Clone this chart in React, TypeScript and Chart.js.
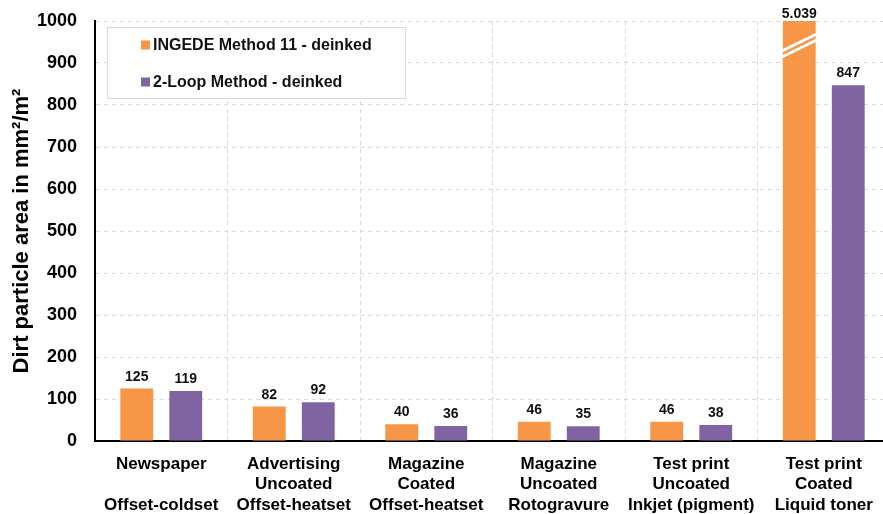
import React, { useEffect, useRef } from "react";
import { Chart, registerables } from "chart.js";

Chart.register(...registerables);

const categories: string[][] = [
  ["Newspaper", "", "Offset-coldset"],
  ["Advertising", "Uncoated", "Offset-heatset"],
  ["Magazine", "Coated", "Offset-heatset"],
  ["Magazine", "Uncoated", "Rotogravure"],
  ["Test print", "Uncoated", "Inkjet (pigment)"],
  ["Test print", "Coated", "Liquid toner"],
];
const seriesNames = ["INGEDE Method 11 - deinked", "2-Loop Method - deinked"];
const ingede = [125, 82, 40, 46, 46, 5039];
const twoLoop = [119, 92, 36, 35, 38, 847];
const yMin = 0;
const yMax = 1000;
const yStep = 100;

const colors = ["#F79646", "#8064A2"];
const FONT = '"Liberation Sans", Arial, sans-serif';

function fmt(v: number): string {
  const s = String(Math.round(v));
  return s.replace(/\B(?=(\d{3})+(?!\d))/g, ".");
}

const labelsPlugin = {
  id: "barLabels",
  afterDatasetsDraw(chart: any) {
    const ctx = chart.ctx;
    const area = chart.chartArea;
    const yScale = chart.scales.y;
    ctx.save();
    chart.data.datasets.forEach((ds: any, di: number) => {
      const meta = chart.getDatasetMeta(di);
      meta.data.forEach((bar: any, i: number) => {
        const v = ds.data[i] as number;
        const clipped = v > yScale.max;
        const left = bar.x - bar.width / 2;
        const right = bar.x + bar.width / 2;
        if (clipped) {
          ctx.strokeStyle = "#ffffff";
          ctx.lineWidth = 3;
          ctx.beginPath();
          ctx.moveTo(left - 1, area.top + 30);
          ctx.lineTo(right + 1, area.top + 13);
          ctx.moveTo(left - 1, area.top + 36);
          ctx.lineTo(right + 1, area.top + 19);
          ctx.stroke();
        }
        ctx.fillStyle = "#111";
        ctx.font = `bold 14px ${FONT}`;
        ctx.textAlign = "center";
        ctx.textBaseline = "alphabetic";
        const yText = clipped ? area.top - 3 : bar.y - 8;
        ctx.fillText(fmt(v), bar.x, yText);
      });
    });
    ctx.restore();
  },
};

const legendPlugin = {
  id: "boxLegend",
  afterDraw(chart: any) {
    const ctx = chart.ctx;
    ctx.save();
    ctx.fillStyle = "#ffffff";
    ctx.fillRect(107.5, 27.5, 298, 71);
    ctx.strokeStyle = "#d9d9d9";
    ctx.lineWidth = 1;
    ctx.strokeRect(107.5, 27.5, 298, 71);
    const rows = [45, 82];
    chart.data.datasets.forEach((ds: any, i: number) => {
      const y = rows[i];
      ctx.fillStyle = ds.backgroundColor;
      ctx.fillRect(141, y - 4.5, 9, 9);
      ctx.fillStyle = "#111";
      ctx.font = `bold 16px ${FONT}`;
      ctx.textAlign = "left";
      ctx.textBaseline = "middle";
      ctx.fillText(ds.label, 153, y + 1);
    });
    ctx.restore();
  },
};

export default function App() {
  const ref = useRef<HTMLCanvasElement | null>(null);
  useEffect(() => {
    document.body.style.margin = "0";
    const canvas = ref.current;
    if (!canvas) return;
    const chart = new Chart(canvas, {
      type: "bar",
      data: {
        labels: categories,
        datasets: [
          { label: seriesNames[0], data: ingede, backgroundColor: colors[0] },
          { label: seriesNames[1], data: twoLoop, backgroundColor: colors[1] },
        ],
      },
      options: {
        animation: false,
        responsive: false,
        maintainAspectRatio: false,
        layout: { padding: { top: 21, left: 0, right: 0, bottom: 0 } },
        plugins: {
          legend: { display: false },
          tooltip: { enabled: false },
        },
        datasets: {
          bar: { categoryPercentage: 0.74, barPercentage: 0.67 },
        },
        scales: {
          x: {
            offset: true,
            grid: {
              offset: true,
              color: "#d9d9d9",
              drawTicks: false,
            },
            border: { display: true, color: "#000", width: 2, dash: [4, 4] },
            ticks: {
              color: "#000",
              font: { family: FONT, size: 17, weight: "bold", lineHeight: 1.2 },
              padding: 13,
              maxRotation: 0,
              autoSkip: false,
            },
            afterFit: (scale: any) => {
              scale.height = 73;
              scale.paddingLeft = 0;
              scale.paddingRight = 0;
            },
          } as any,
          y: {
            min: yMin,
            max: yMax,
            ticks: {
              stepSize: yStep,
              color: "#000",
              font: { family: FONT, size: 18, weight: "bold" },
              padding: 18,
              callback: (v: any) => String(v),
            },
            grid: { color: "#d9d9d9", drawTicks: false },
            border: { display: true, color: "#000", width: 2, dash: [4, 4] },
            title: {
              display: true,
              text: "Dirt particle area in mm²/m²",
              color: "#000",
              font: { family: FONT, size: 22, weight: "bold" },
              padding: { top: 9, bottom: 0 },
            },
            afterFit: (scale: any) => {
              scale.width = 95;
              scale.paddingTop = 0;
              scale.paddingBottom = 0;
            },
          } as any,
        },
      },
      plugins: [labelsPlugin, legendPlugin],
    });
    return () => chart.destroy();
  }, []);
  return (
    <div style={{ width: 883, height: 514, overflow: "hidden", position: "relative" }}>
      <canvas ref={ref} width={890} height={514} style={{ display: "block", width: 890, height: 514 }} />
    </div>
  );
}
